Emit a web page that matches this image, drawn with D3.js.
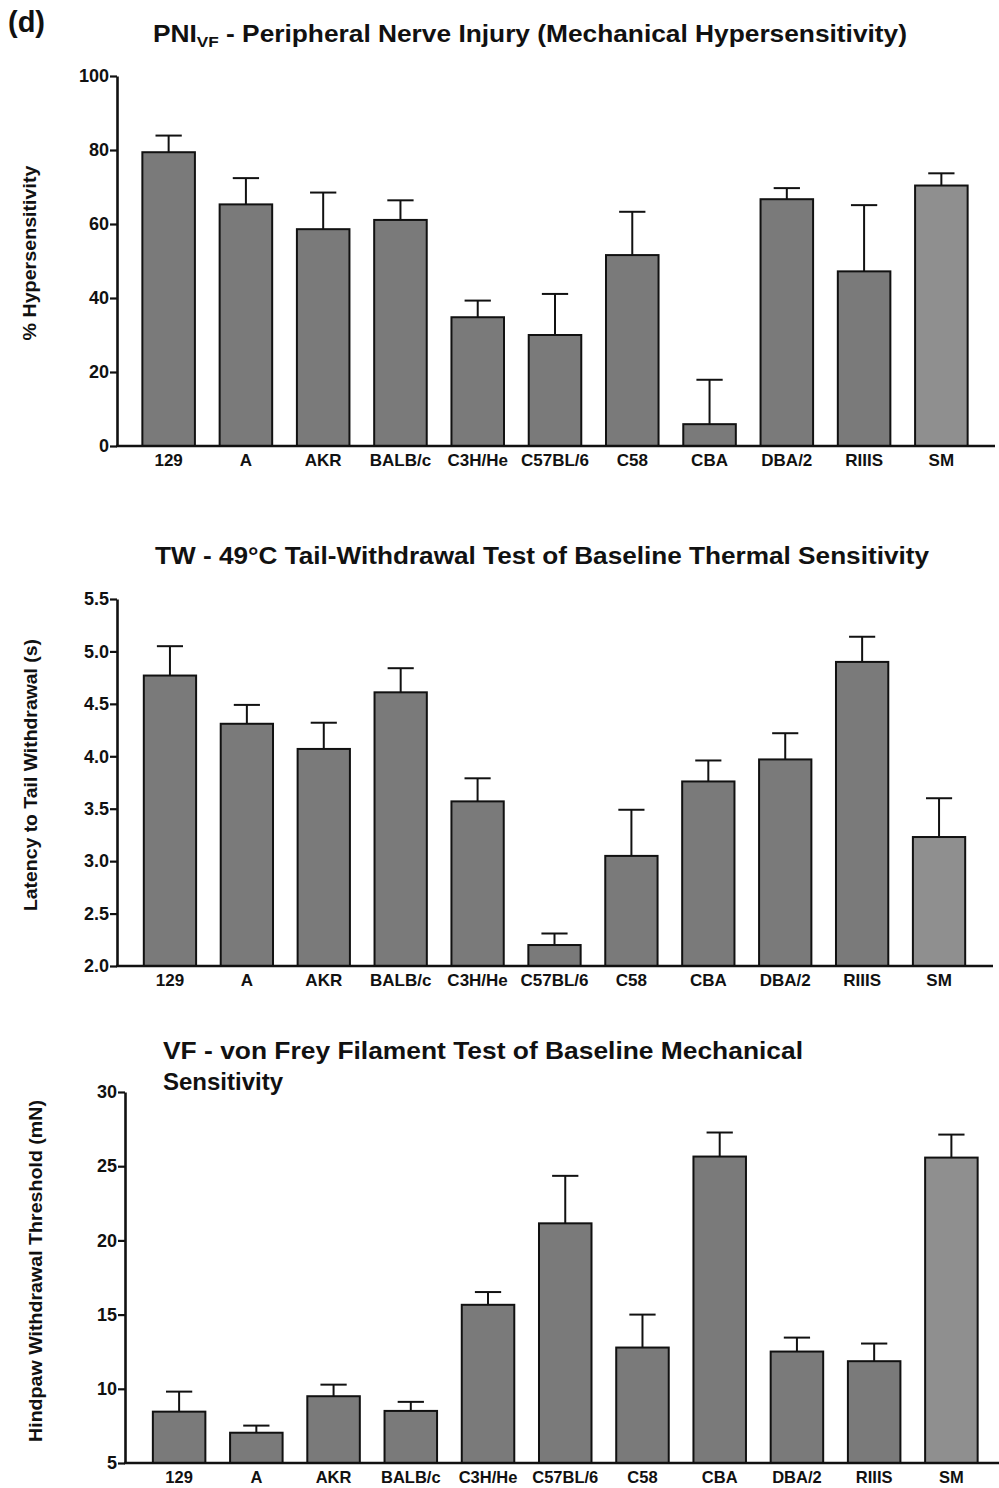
<!DOCTYPE html>
<html>
<head>
<meta charset="utf-8">
<script src="https://cdnjs.cloudflare.com/ajax/libs/d3/7.8.5/d3.min.js"></script>
<style>
  body { margin: 0; background: #fff; }
  svg { display: block; font-family: "Liberation Sans", Arial, sans-serif; font-weight: bold; }
</style>
</head>
<body>
<script>
var width = 999,
  height = 1488;

// mouse strains, same order in all three panels
var strains = ["129", "A", "AKR", "BALB/c", "C3H/He", "C57BL/6", "C58", "CBA", "DBA/2", "RIIIS", "SM"];

// PNI_VF - % hypersensitivity (mean, sem)
var pniMean = [79.4, 65.3, 58.6, 61.1, 34.8, 30.0, 51.6, 5.9, 66.7, 47.2, 70.4];
var pniSem  = [4.5, 7.1, 9.9, 5.3, 4.5, 11.1, 11.7, 12.0, 3.0, 17.9, 3.3];
var pniTicks = [0, 20, 40, 60, 80, 100];

// TW - latency to tail withdrawal (s)
var twMean = [4.77, 4.31, 4.07, 4.61, 3.57, 2.20, 3.05, 3.76, 3.97, 4.90, 3.23];
var twSem  = [0.28, 0.18, 0.25, 0.23, 0.22, 0.11, 0.44, 0.20, 0.25, 0.24, 0.37];
var twTicks = [2.0, 2.5, 3.0, 3.5, 4.0, 4.5, 5.0, 5.5];

// VF - hindpaw withdrawal threshold (mN)
var vfMean = [8.46, 7.04, 9.50, 8.51, 15.66, 21.15, 12.78, 25.65, 12.51, 11.86, 25.58];
var vfSem  = [1.35, 0.48, 0.78, 0.61, 0.86, 3.20, 2.22, 1.62, 0.94, 1.19, 1.55];
var vfTicks = [5, 10, 15, 20, 25, 30];

var svg = d3.select("body").append("svg")
  .attr("width", width)
  .attr("height", height);

// squeeze/stretch a text element to a given width
function fit(sel, w) {
  sel.attr("textLength", w).attr("lengthAdjust", "spacingAndGlyphs");
  return sel;
}

svg.append("text")
  .attr("x", 8).attr("y", 32)
  .style("font-size", "29px")
  .attr("fill", "#111")
  .text("(d)");

function drawPanel(p) {
  var g = svg.append("g");

  var x = d3.scaleBand()
    .domain(strains)
    .range(p.band)
    .paddingInner(0.32)
    .paddingOuter(0.16);

  var y = d3.scaleLinear()
    .domain(p.domain)
    .range([p.y0, p.y1]);

  // bars
  g.selectAll("rect.bar").data(p.mean)
    .enter().append("rect")
    .attr("class", "bar")
    .attr("x", function(d, i){ return x(strains[i]); })
    .attr("y", function(d){ return y(d); })
    .attr("width", x.bandwidth())
    .attr("height", function(d){ return y(p.domain[0]) - y(d); })
    .attr("fill", function(d, i){ return strains[i] == "SM" ? "#8f8f8f" : "#7a7a7a"; })
    .attr("stroke", "#111")
    .attr("stroke-width", 2);

  // error bars (upper half only)
  var cap = x.bandwidth() / 4;
  var eb = g.selectAll("g.err").data(p.mean)
    .enter().append("g").attr("class", "err")
    .attr("stroke", "#111").attr("stroke-width", 2);
  eb.append("line")
    .attr("x1", function(d, i){ return x(strains[i]) + x.bandwidth()/2; })
    .attr("x2", function(d, i){ return x(strains[i]) + x.bandwidth()/2; })
    .attr("y1", function(d){ return y(d); })
    .attr("y2", function(d, i){ return y(d + p.sem[i]); });
  eb.append("line")
    .attr("x1", function(d, i){ return x(strains[i]) + x.bandwidth()/2 - cap; })
    .attr("x2", function(d, i){ return x(strains[i]) + x.bandwidth()/2 + cap; })
    .attr("y1", function(d, i){ return y(d + p.sem[i]); })
    .attr("y2", function(d, i){ return y(d + p.sem[i]); });

  // y axis
  var yAxis = g.append("g")
    .attr("transform", "translate(" + p.axisX + ",0)")
    .call(d3.axisLeft(y).tickValues(p.ticks).tickFormat(d3.format(p.fmt)).tickSize(7).tickSizeOuter(0));
  yAxis.select(".domain").attr("stroke", "#111").attr("stroke-width", 2.6);
  yAxis.selectAll(".tick line").attr("stroke", "#111").attr("stroke-width", 2.2);
  yAxis.selectAll(".tick text")
    .attr("fill", "#111")
    .attr("x", -8)
    .style("font-size", "18px")
    .style("font-family", "Liberation Sans, Arial, sans-serif")
    .style("font-weight", "bold");

  // x axis baseline and labels
  g.append("line")
    .attr("x1", p.axisX - 1).attr("x2", p.axisEnd)
    .attr("y1", y(p.domain[0])).attr("y2", y(p.domain[0]))
    .attr("stroke", "#111").attr("stroke-width", 2.6);
  var xAxis = g.append("g")
    .attr("transform", "translate(0," + y(p.domain[0]) + ")")
    .call(d3.axisBottom(x).tickSize(0).tickPadding(8));
  xAxis.select(".domain").remove();
  xAxis.selectAll(".tick text")
    .attr("fill", "#111")
    .style("font-size", p.xFont)
    .style("font-family", "Liberation Sans, Arial, sans-serif")
    .style("font-weight", "bold");

  // y label
  fit(g.append("text")
    .attr("transform", "translate(" + p.labX + "," + p.labY + ") rotate(-90)")
    .attr("text-anchor", "middle")
    .style("font-size", "18px")
    .attr("fill", "#111")
    .text(p.label), p.labW);
}

// ---- panel 1 ----
var t1 = svg.append("text")
  .attr("x", 153).attr("y", 42)
  .style("font-size", "23px").attr("fill", "#111");
t1.append("tspan").text("PNI");
t1.append("tspan").attr("dy", 5).style("font-size", "15px").text("VF");
t1.append("tspan").attr("dy", -5).text(" - Peripheral Nerve Injury (Mechanical Hypersensitivity)");
fit(t1, 754);

drawPanel({
  mean: pniMean, sem: pniSem, ticks: pniTicks, fmt: "d",
  domain: [0, 100], y0: 446, y1: 76,
  band: [130, 980], axisX: 117, axisEnd: 995,
  xFont: "17px",
  label: "% Hypersensitivity", labX: 36, labY: 253, labW: 175
});

// ---- panel 2 ----
fit(svg.append("text")
  .attr("x", 155).attr("y", 564)
  .style("font-size", "23px").attr("fill", "#111")
  .text("TW - 49\u00B0C Tail-Withdrawal Test of Baseline Thermal Sensitivity"), 774);

drawPanel({
  mean: twMean, sem: twSem, ticks: twTicks, fmt: ".1f",
  domain: [2.0, 5.5], y0: 966, y1: 599,
  band: [131.5, 977.5], axisX: 117, axisEnd: 993,
  xFont: "17px",
  label: "Latency to Tail Withdrawal (s)", labX: 37, labY: 775, labW: 272
});

// ---- panel 3 ----
var t3 = svg.append("text")
  .attr("x", 163).attr("y", 1059)
  .style("font-size", "24px").attr("fill", "#111");
fit(t3.append("tspan").attr("x", 163).text("VF - von Frey Filament Test of Baseline Mechanical"), 640);
t3.append("tspan").attr("x", 163).attr("dy", 31).text("Sensitivity");

drawPanel({
  mean: vfMean, sem: vfSem, ticks: vfTicks, fmt: "d",
  domain: [5, 30], y0: 1463, y1: 1092,
  band: [140.5, 990], axisX: 125, axisEnd: 999,
  xFont: "16.5px",
  label: "Hindpaw Withdrawal Threshold (mN)", labX: 42, labY: 1271, labW: 342
});
</script>
</body>
</html>
